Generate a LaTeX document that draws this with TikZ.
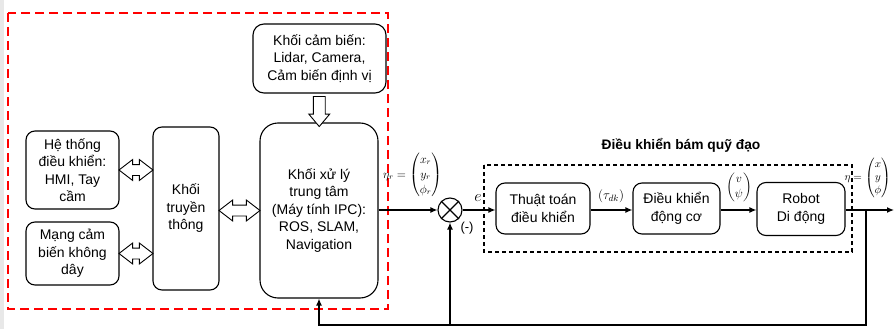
\RequirePackage{fix-cm}
\documentclass[tikz,border=0pt]{standalone}
\usepackage{amsmath}
\usepackage{fontspec}
\setmainfont{Liberation Sans}
\usetikzlibrary{arrows.meta, calc, shapes.arrows, positioning}
\tikzset{>={Latex[length=7pt,width=6pt]}}
\tikzset{
  block/.style={shape=rectangle, draw, line width=1.1pt, rounded corners=9pt, align=center, inner sep=2pt, font=\fontsize{14}{17.5}\selectfont},
  hollowarrow/.style={shape=double arrow, draw, line width=0.9pt, fill=white, inner sep=5pt, double arrow head extend=5pt, double arrow tip angle=75, minimum width=20pt},
  downarrow/.style={shape=single arrow, draw, line width=0.9pt, fill=white, inner sep=5.5pt, single arrow head extend=4.5pt, single arrow tip angle=80, minimum width=20pt, rotate=-90},
  signal/.style={line width=1.3pt},
  mathlabel/.style={inner sep=0pt, font=\fontsize{12}{15}\selectfont},
}

\begin{document}
\begin{tikzpicture}[x=1pt, y=-1pt]
	\useasboundingbox (0,0) rectangle (896,329);
	% page edge
	\fill[gray!18] (0,0) rectangle (4,329);
	% Blocks of the processing part:
	\node[block, rounded corners=11pt, minimum width=133pt, minimum height=69pt] (sensor) at (319.5,58.5){Khối cảm biến:\\Lidar, Camera,\\Cảm biến định vị};
	\node[block, rounded corners=18pt, minimum width=118pt, minimum height=175pt] (xuly) at (319,210.5){Khối xử lý\\trung tâm\\(Máy tính IPC):\\ROS, SLAM,\\Navigation};
	\node[block, minimum width=66pt, minimum height=163pt] (truyen) at (186,208.5){Khối\\truyền\\thông};
	\node[block, minimum width=93pt, minimum height=78pt] (hethong) at (72.5,170){Hệ thống\\điều khiển:\\HMI, Tay\\cầm};
	\node[block, minimum width=93pt, minimum height=63pt] (mang) at (72.5,253.5){Mạng cảm\\biến không\\dây};
	% hollow arrows
	\node[hollowarrow, minimum height=34pt] (a1) at ($(hethong.east)!0.5!(truyen.west |- hethong.east)$){};
	\node[hollowarrow, minimum height=34pt] (a2) at ($(mang.east)!0.5!(truyen.west |- mang.east)$){};
	\node[hollowarrow, minimum height=41pt] (a3) at ($(truyen.east |- xuly.east)!0.5!(xuly.west)$){};
	\node[downarrow, minimum height=30pt] (a4) at ($(sensor.south)!0.5!(xuly.north)$){};
	\draw[red, line width=1.6pt, dash pattern=on 9pt off 5pt] (8,13) rectangle (388,309);
	% Tracking control loop:
	\node[shape=circle, draw, line width=1.1pt, minimum size=24pt, inner sep=0pt] (sum) at (450,210){};
	\draw[line width=1.1pt] (sum.north west) -- (sum.south east) (sum.north east) -- (sum.south west);
	\node[block, minimum width=94pt, minimum height=51pt] (thuat) at (543,208.5){Thuật toán\\điều khiển};
	\node[block, minimum width=87pt, minimum height=51pt] (dkdc) at (676.5,208.5){Điều khiển\\động cơ};
	\node[block, minimum width=88pt, minimum height=53pt] (robot) at (801,209){Robot\\Di động};
	\draw[line width=1.1pt, dash pattern=on 4pt off 3pt] (484,165) rectangle (852,252);
	\node[font=\fontsize{13.8}{16}\selectfont\bfseries] (title) at (681,145){Điều khiển bám quỹ đạo};
	\coordinate (tap) at (866,210);
	\coordinate (out) at (894,210);
	\coordinate (fb) at (0,325);
	\draw[signal, ->] (xuly.east |- sum.west) -- (sum.west);
	\draw[signal, ->] (sum.east) -- (thuat.west |- sum.east);
	\draw[signal, ->] (thuat.east |- sum.east) -- (dkdc.west |- sum.east);
	\draw[signal, ->] (dkdc.east |- sum.east) -- (robot.west |- sum.east);
	\draw[signal, ->] (robot.east |- sum.east) -- (out);
	\draw[signal, ->] (tap) -- (tap |- fb) -| (xuly.south);
	\draw[signal, ->] (sum |- fb) -- (sum.south);
	% labels
	\node[mathlabel, anchor=west] (etar) at (383,175){$\eta_r=\begin{pmatrix}x_r\\y_r\\\phi_r\end{pmatrix}$};
	\node[inner sep=0pt, font=\fontsize{16}{18}\selectfont] (e) at (478,198){$e$};
	\node[inner sep=0pt, font=\fontsize{13}{15}\selectfont] (minus) at (467,228){(-)};
	\node[inner sep=0pt, font=\fontsize{13}{15}\selectfont] (tau) at (611,196){$(\tau_{dk})$};
	\node[mathlabel] (vpsi) at (739,187){$\begin{pmatrix}v\\\psi\end{pmatrix}$};
	\node[mathlabel, anchor=east, font=\fontsize{11}{13}\selectfont] (eta) at (891,178){$\eta=\begin{pmatrix}x\\y\\\phi\end{pmatrix}$};
\end{tikzpicture}
\end{document}
